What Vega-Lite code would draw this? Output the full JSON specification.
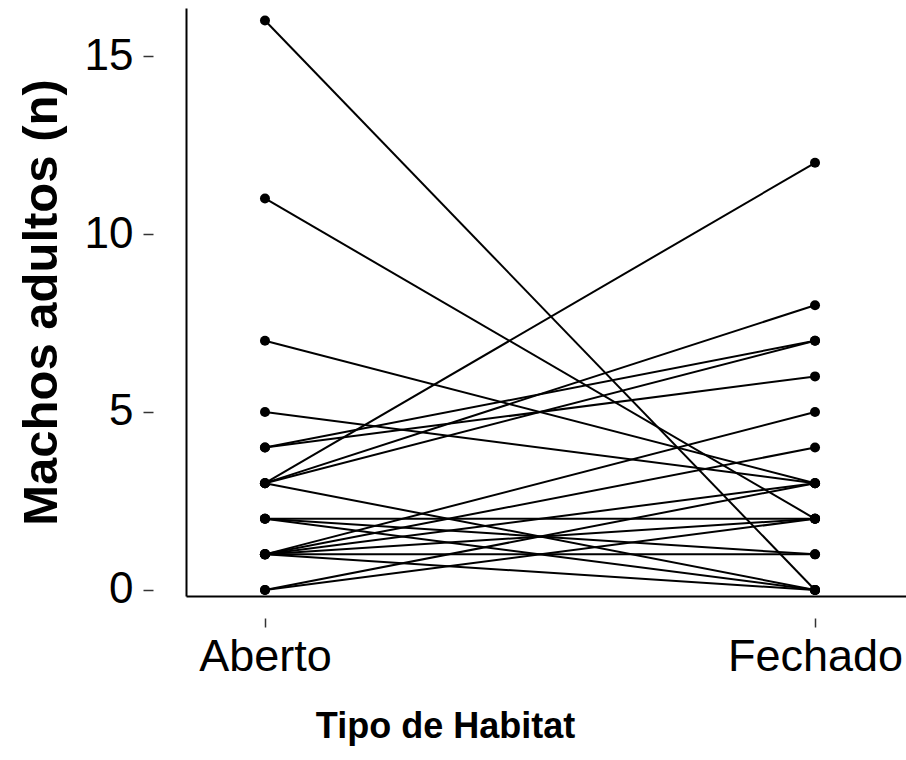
{
  "$schema": "https://vega.github.io/schema/vega-lite/v6.json",
  "width": 720,
  "height": 588,
  "autosize": {"type": "none"},
  "padding": {"left": 186, "top": 8, "right": 0, "bottom": 164},
  "background": "white",
  "config": {
    "view": {"stroke": null},
    "font": "Liberation Sans",
    "axis": {"grid": false, "labelColor": "black", "titleColor": "black", "tickColor": "#333333", "domainColor": "black"}
  },
  "data": {
    "values": [
      {"id": 1, "habitat": "Aberto", "n": 16}, {"id": 1, "habitat": "Fechado", "n": 0},
      {"id": 2, "habitat": "Aberto", "n": 11}, {"id": 2, "habitat": "Fechado", "n": 2},
      {"id": 3, "habitat": "Aberto", "n": 7}, {"id": 3, "habitat": "Fechado", "n": 3},
      {"id": 4, "habitat": "Aberto", "n": 5}, {"id": 4, "habitat": "Fechado", "n": 3},
      {"id": 5, "habitat": "Aberto", "n": 4}, {"id": 5, "habitat": "Fechado", "n": 7},
      {"id": 6, "habitat": "Aberto", "n": 4}, {"id": 6, "habitat": "Fechado", "n": 6},
      {"id": 7, "habitat": "Aberto", "n": 3}, {"id": 7, "habitat": "Fechado", "n": 12},
      {"id": 8, "habitat": "Aberto", "n": 3}, {"id": 8, "habitat": "Fechado", "n": 8},
      {"id": 9, "habitat": "Aberto", "n": 3}, {"id": 9, "habitat": "Fechado", "n": 7},
      {"id": 10, "habitat": "Aberto", "n": 3}, {"id": 10, "habitat": "Fechado", "n": 0},
      {"id": 11, "habitat": "Aberto", "n": 2}, {"id": 11, "habitat": "Fechado", "n": 2},
      {"id": 12, "habitat": "Aberto", "n": 2}, {"id": 12, "habitat": "Fechado", "n": 1},
      {"id": 13, "habitat": "Aberto", "n": 2}, {"id": 13, "habitat": "Fechado", "n": 0},
      {"id": 14, "habitat": "Aberto", "n": 1}, {"id": 14, "habitat": "Fechado", "n": 5},
      {"id": 15, "habitat": "Aberto", "n": 1}, {"id": 15, "habitat": "Fechado", "n": 4},
      {"id": 16, "habitat": "Aberto", "n": 1}, {"id": 16, "habitat": "Fechado", "n": 3},
      {"id": 17, "habitat": "Aberto", "n": 1}, {"id": 17, "habitat": "Fechado", "n": 2},
      {"id": 18, "habitat": "Aberto", "n": 1}, {"id": 18, "habitat": "Fechado", "n": 1},
      {"id": 19, "habitat": "Aberto", "n": 1}, {"id": 19, "habitat": "Fechado", "n": 0},
      {"id": 20, "habitat": "Aberto", "n": 0}, {"id": 20, "habitat": "Fechado", "n": 3},
      {"id": 21, "habitat": "Aberto", "n": 0}, {"id": 21, "habitat": "Fechado", "n": 2}
    ]
  },
  "layer": [
    {
      "mark": {"type": "line", "color": "black", "strokeWidth": 2},
      "encoding": {
        "x": {
          "field": "habitat", "type": "nominal",
          "scale": {"type": "point", "padding": 0.1545, "align": 0.4647},
          "axis": {"title": "Tipo de Habitat", "labelAngle": 0, "domain": false, "offset": 22, "tickSize": 9, "tickWidth": 1.5, "labelFontSize": 45, "labelPadding": 7, "titleFontSize": 36, "titleFontWeight": "bold", "titlePadding": 30, "titleX": 259, "titleAlign": "center"}
        },
        "y": {
          "field": "n", "type": "quantitative",
          "scale": {"domain": [-0.17, 16.35], "nice": false, "zero": false},
          "axis": {"title": "Machos adultos (n)", "values": [0, 5, 10, 15], "domain": false, "offset": 33, "tickSize": 10, "tickWidth": 1.5, "labelFontSize": 44, "labelPadding": 10, "titleFontSize": 49, "titleFontWeight": "bold", "titlePadding": 18}
        },
        "detail": {"field": "id", "type": "nominal"}
      }
    },
    {
      "mark": {"type": "circle", "color": "black", "size": 100, "opacity": 1},
      "encoding": {
        "x": {"field": "habitat", "type": "nominal", "axis": {"orient": "bottom", "domain": true, "domainWidth": 2, "ticks": false, "labels": false, "title": null}},
        "y": {"field": "n", "type": "quantitative", "axis": {"orient": "left", "domain": true, "domainWidth": 2, "ticks": false, "labels": false, "title": null}}
      }
    }
  ],
  "resolve": {"axis": {"x": "independent", "y": "independent"}}
}
